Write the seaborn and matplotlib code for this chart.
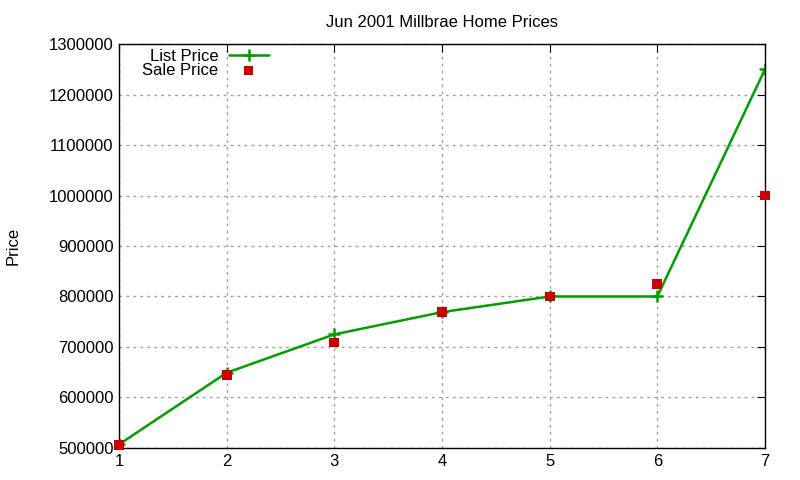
import seaborn as sns
import matplotlib.pyplot as plt
import matplotlib.ticker as mticker
import pandas as pd

# house index and prices
house = [1, 2, 3, 4, 5, 6, 7]
list_price = [507000, 649000, 725000, 769000, 800000, 800000, 1250000]
sale_price = [506000, 645000, 709000, 769000, 800000, 824000, 1000000]

df = pd.DataFrame({"house": house, "list": list_price, "sale": sale_price})

sns.set_style("white")
plt.rcParams['font.family'] = ['Liberation Sans', 'DejaVu Sans']
plt.rcParams['text.color'] = 'black'
plt.rcParams['axes.labelcolor'] = 'black'

fig = plt.figure(figsize=(8, 4.8), dpi=100)
ax = fig.add_axes([0.14875, 0.0667, 0.8075, 0.8416])

sns.lineplot(data=df, x="house", y="list", ax=ax, color="#00a000", linewidth=1.8,
             marker="+", markersize=9, markeredgewidth=1.8, markeredgecolor="#00a000",
             label="List Price")
sns.scatterplot(data=df, x="house", y="sale", ax=ax, color="#cc0000", marker="s",
                s=50, edgecolor="none", label="Sale Price", zorder=3, clip_on=False)

ax.set_xlim(1, 7)
ax.set_ylim(500000, 1300000)
ax.yaxis.set_major_locator(mticker.MultipleLocator(100000))
ax.xaxis.set_major_locator(mticker.MultipleLocator(1))
ax.yaxis.set_major_formatter(mticker.FormatStrFormatter("%d"))

ax.grid(True, color="#a0a0a0", linestyle=(0, (2, 3)), linewidth=1)
ax.tick_params(direction="in", top=True, right=True, length=6, labelsize=12,
               colors="black", pad=4)
for s in ax.spines.values():
    s.set_color("black")
    s.set_linewidth(1)

ax.set_xlabel("")
ax.set_ylabel("Price", fontsize=12, labelpad=20, color="black")
ax.set_title("Jun 2001 Millbrae Home Prices", fontsize=12, pad=12, color="black")

leg = ax.legend(loc="upper left", markerfirst=False, frameon=False, fontsize=12,
                handlelength=2.4, handletextpad=0.6, labelspacing=-0.05,
                borderaxespad=0.0, bbox_to_anchor=(0.026, 1.005))
for t in leg.get_texts():
    t.set_color("black")

fig.savefig("out.png", dpi=100)
